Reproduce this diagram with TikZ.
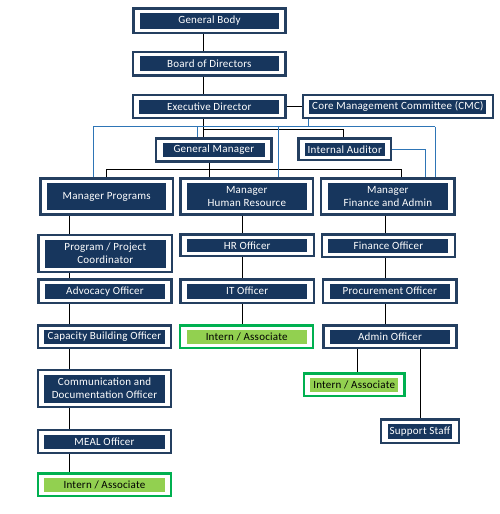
\documentclass[tikz,border=0pt]{standalone}
\usepackage{fontspec}
\setmainfont{Carlito}[LetterSpace=2]
\definecolor{navy}{HTML}{17365D}
\definecolor{navyedge}{HTML}{243F60}
\definecolor{grn}{HTML}{00B050}
\definecolor{lgrn}{HTML}{92D050}
\definecolor{bline}{HTML}{2E75B6}
\tikzset{
  navyouter/.style={draw=navyedge, line width=2.4pt, fill=white},
  navyinner/.style={fill=navy, draw=none},
  greenouter/.style={draw=grn, line width=2.2pt, fill=white},
  greeninner/.style={fill=lgrn, draw=none},
  navytext/.style={text=white, font=\fontsize{11}{13}\selectfont, align=center, inner sep=0pt},
  greentext/.style={text=black, font=\fontsize{11}{13}\selectfont, align=center, inner sep=0pt},
  conn/.style={draw=black, line width=0.9pt},
  bconn/.style={draw=bline, line width=0.9pt},
}
% #1 name, #2 x1, #3 y1, #4 x2, #5 y2, #6 kind (navy/green), #7 text
\newcommand\orgbox[7]{%
  \node[#6outer, inner sep=0pt, minimum width={#4-#2-2.4}, minimum height={#5-#3-2.4}]
    (#1) at ({(#2+#4)/2},{(#3+#5)/2}) {};
  \node[#6inner, inner sep=0pt, minimum width={#4-#2-15.4}, minimum height={#5-#3-11}]
    (#1-in) at (#1.center) {};
  \node[#6text] (#1-t) at (#1.center) {#7};
}
\begin{document}
\begin{tikzpicture}[x=1pt,y=-1pt]
\useasboundingbox (0,0) rectangle (499,514);
% reference x positions
\coordinate (xa) at (203,0);
\coordinate (xg) at (209,0);
\coordinate (xp) at (106,0);
\coordinate (xf) at (401.7,0);
\coordinate (xc1) at (69.5,0);
\coordinate (xc2) at (242.3,0);
\coordinate (xc3) at (385.7,0);
\coordinate (xi3) at (357.7,0);
\coordinate (xs3) at (420.7,0);
\coordinate (xia) at (343.3,0);
\coordinate (b1) at (93.3,0);
\coordinate (b2) at (197.3,0);
\coordinate (b3) at (278.3,0);
\coordinate (b4) at (308.3,0);
\coordinate (b5) at (435,0);
\coordinate (b6) at (425,0);
\coordinate (ybus) at (0,126.7);
\coordinate (yed) at (0,129.3);
\coordinate (ygm) at (0,169.3);
\coordinate (yia) at (0,149.3);

\orgbox{gb}{132.3}{7.3}{286.7}{34}{navy}{General Body}
\orgbox{bod}{132}{50.7}{286.7}{76.7}{navy}{Board of Directors}
\orgbox{ed}{131.7}{94}{286.7}{119}{navy}{Executive Director}
\orgbox{cmc}{301.7}{94}{494}{119}{navy}{Core Management Committee (CMC)}
\orgbox{gm}{155}{137.3}{272.7}{162.7}{navy}{General Manager}
\orgbox{ia}{297.3}{137.3}{392.3}{161.3}{navy}{Internal Auditor}
\orgbox{mp}{39.3}{177.3}{174}{215.7}{navy}{Manager Programs}
\orgbox{mhr}{179.3}{177.3}{314.3}{215.7}{navy}{Manager\\Human Resource}
\orgbox{mfa}{320}{177.3}{455.7}{215.7}{navy}{Manager\\Finance and Admin}
\orgbox{ppc}{37.3}{234}{173.3}{273.3}{navy}{\fontsize{11}{14.5}\selectfont Program / Project\\Coordinator}
\orgbox{hr}{179.3}{233.3}{315}{257.3}{navy}{HR Officer}
\orgbox{fo}{320.7}{233.3}{456}{258}{navy}{Finance Officer}
\orgbox{adv}{37.3}{278.3}{172.7}{304}{navy}{Advocacy Officer}
\orgbox{it}{179.3}{278.3}{315}{304}{navy}{IT Officer}
\orgbox{po}{322}{278.3}{457.7}{304}{navy}{Procurement Officer}
\orgbox{cb}{36.7}{324.3}{172.3}{349.3}{navy}{Capacity Building Officer}
\orgbox{in2}{179}{324.3}{314.3}{349.3}{green}{Intern / Associate}
\orgbox{ao}{322.3}{324.3}{457.7}{349.3}{navy}{Admin Officer}
\orgbox{cdo}{36.7}{369}{172.3}{408.3}{navy}{\fontsize{11}{15}\selectfont Communication and\\Documentation Officer}
\orgbox{in3}{302.7}{372.3}{405.7}{397.3}{green}{Intern / Associate}
\orgbox{ss}{380}{418.3}{460}{444.3}{navy}{Support Staff}
\orgbox{meal}{36.7}{429}{172.3}{454}{navy}{MEAL Officer}
\orgbox{in1}{36.7}{472.3}{172.3}{497.3}{green}{Intern / Associate}

% connectors
\draw[conn] (gb.south -| xa) -- (bod.north -| xa);
\draw[conn] (bod.south -| xa) -- (ed.north -| xa);
\draw[conn] (ed.south -| xa) -- (gm.north -| xa);
\draw[conn] (ed.east) -- (cmc.west);
\draw[conn] (xa |- yed) -| (ia.north -| xia);
\draw[conn] (gm.south -| xg) -- (mhr.north -| xg);
\draw[conn] (xp |- ygm) -- (xf |- ygm);
\draw[conn] (xp |- ygm) -- (mp.north -| xp);
\draw[conn] (xf |- ygm) -- (mfa.north -| xf);
% blue
\draw[bconn] (cmc.south -| b4) -- (b4 |- ybus);
\draw[bconn] (b1 |- ybus) -- (b5 |- ybus);
\draw[bconn] (b1 |- ybus) -- (mp.north -| b1);
\draw[bconn] (b2 |- ybus) -- (gm.north -| b2);
\draw[bconn] (b3 |- ybus) -- (mhr.north -| b3);
\draw[bconn] (b5 |- ybus) -- (mfa.north -| b5);
\draw[bconn] (ia.east |- yia) -| (mfa.north -| b6);
% column 1
\draw[conn] (mp.south -| xc1) -- (ppc.north -| xc1);
\draw[conn] (ppc.south -| xc1) -- (adv.north -| xc1);
\draw[conn] (adv.south -| xc1) -- (cb.north -| xc1);
\draw[conn] (cb.south -| xc1) -- (cdo.north -| xc1);
\draw[conn] (cdo.south -| xc1) -- (meal.north -| xc1);
\draw[conn] (meal.south -| xc1) -- (in1.north -| xc1);
% column 2
\draw[conn] (mhr.south -| xc2) -- (hr.north -| xc2);
\draw[conn] (hr.south -| xc2) -- (it.north -| xc2);
\draw[conn] (it.south -| xc2) -- (in2.north -| xc2);
% column 3
\draw[conn] (mfa.south -| xc3) -- (fo.north -| xc3);
\draw[conn] (fo.south -| xc3) -- (po.north -| xc3);
\draw[conn] (po.south -| xc3) -- (ao.north -| xc3);
\draw[conn] (ao.south -| xi3) -- (in3.north -| xi3);
\draw[conn] (ao.south -| xs3) -- (ss.north -| xs3);
\end{tikzpicture}
\end{document}
